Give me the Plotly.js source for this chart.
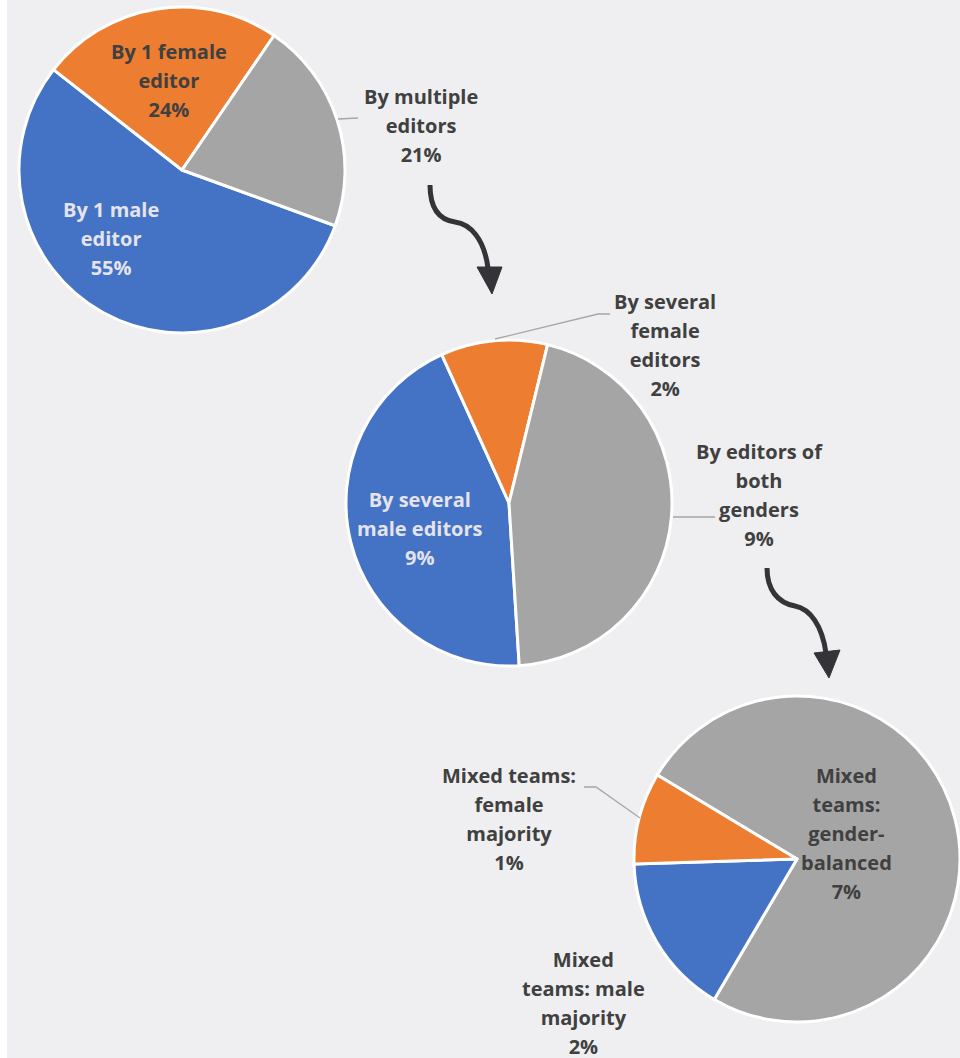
<!DOCTYPE html>
<html>
<head>
<meta charset="utf-8">
<script src="https://cdn.plot.ly/plotly-3.0.1.min.js"></script>
<style>
  html, body { margin: 0; padding: 0; background: #ffffff; }
  #chart { width: 960px; height: 1058px; }
</style>
</head>
<body>
<div id="chart"></div>
<script>
// ---------- Data ----------
// Pie 1: who edits (share of all items)
const pie1Labels = ['By 1 male<br>editor', 'By 1 female<br>editor', 'By multiple<br>editors'];
const pie1Values = [55, 24, 21];

// Pie 2: breakdown of "By multiple editors"
const pie2Labels = ['By several<br>male editors', 'By several<br>female<br>editors', 'By editors of<br>both<br>genders'];
const pie2Values = [9.2, 2.2, 9.4];

// Pie 3: breakdown of "By editors of both genders"
const pie3Labels = ['Mixed<br>teams:<br>gender-<br>balanced', 'Mixed<br>teams: male<br>majority', 'Mixed teams:<br>female<br>majority'];
const pie3Values = [7.0, 1.5, 0.85];

// ---------- Styles ----------
const BLUE = '#4472C4', ORANGE = '#ED7D31', GRAY = '#A5A5A5';
const BG = '#EFEFF1';
const DARK = '#404040', LIGHT = '#E4E4EA';
const W = 960, H = 1058;

const pies = [
  { labels: pie1Labels, values: pie1Values, colors: [BLUE, ORANGE, GRAY], rotation: 110,
    cx: 182, cy: 170, r: 163,
    text: [{x: 111, y: 238, c: LIGHT}, {x: 169, y: 80, c: DARK}, {x: 421, y: 125, c: DARK}] },
  { labels: pie2Labels, values: pie2Values, colors: [BLUE, ORANGE, GRAY], rotation: 176.4,
    cx: 509, cy: 503, r: 163,
    text: [{x: 420, y: 528, c: LIGHT}, {x: 665, y: 345, c: DARK}, {x: 759, y: 495, c: DARK}] },
  { labels: pie3Labels, values: pie3Values, colors: [GRAY, BLUE, ORANGE], rotation: -59,
    cx: 797, cy: 859, r: 163,
    text: [{x: 846, y: 833, c: DARK}, {x: 583, y: 1003, c: DARK}, {x: 509, y: 819, c: DARK}] }
];

const traces = [];
const annotations = [];
const FONT = 'Open Sans, Noto Sans, sans-serif';
const TXT = 20, LINEFS = 29 / 1.3;

pies.forEach((p, k) => {
  traces.push({
    type: 'pie',
    labels: p.labels.map(s => s.replace(/<br>/g, ' ')),
    values: p.values,
    sort: false,
    direction: 'clockwise',
    rotation: p.rotation,
    marker: { colors: p.colors, line: { color: '#ffffff', width: 3 } },
    textinfo: 'none',
    hoverinfo: 'label+percent',
    showlegend: false,
    domain: {
      x: [(p.cx - p.r) / W, (p.cx + p.r) / W],
      y: [(H - p.cy - p.r) / H, (H - p.cy + p.r) / H]
    }
  });
  p.labels.forEach((lab, i) => {
    const lines = lab.split('<br>').concat([Math.round(p.values[i]) + '%']);
    annotations.push({
      xref: 'x', yref: 'y', x: p.text[i].x, y: p.text[i].y,
      xanchor: 'center', yanchor: 'middle', showarrow: false, align: 'center',
      text: lines.map(l => '<span style="font-size:' + TXT + 'px">' + l + '</span>').join('<br>'),
      font: { family: FONT, size: LINEFS, color: p.text[i].c, weight: 700 },
      borderpad: 0
    });
  });
});

// empty trace so the pixel-like cartesian frame exists for shapes/annotations
traces.push({ type: 'scatter', x: [], y: [], mode: 'markers', showlegend: false, hoverinfo: 'skip' });

const ARROW = '#333338', LEADER = '#A6A6A6';
const shapes = [
  // background panel
  { type: 'rect', xref: 'x', yref: 'y', x0: 7, x1: 960, y0: 0, y1: 1058, fillcolor: BG, line: { width: 0 }, layer: 'below' },
  // leader lines
  { type: 'path', xref: 'x', yref: 'y', path: 'M338,119 L358,118', line: { color: LEADER, width: 1.3 } },
  { type: 'path', xref: 'x', yref: 'y', path: 'M495,339 L598,314 L610,314', line: { color: LEADER, width: 1.3 } },
  { type: 'path', xref: 'x', yref: 'y', path: 'M673,517 L715,517', line: { color: LEADER, width: 1.3 } },
  { type: 'path', xref: 'x', yref: 'y', path: 'M584,787 L596,787 L640,818', line: { color: LEADER, width: 1.3 } },
  // curved arrows
  { type: 'path', xref: 'x', yref: 'y', path: 'M430,185 C430,210 440,220 455,222 C470,224 484,238 488,268', line: { color: ARROW, width: 5 } },
  { type: 'path', xref: 'x', yref: 'y', path: 'M477,267 L502,267 L492,294 Z', fillcolor: ARROW, line: { color: ARROW, width: 1 } },
  { type: 'path', xref: 'x', yref: 'y', path: 'M767,568 C767,590 778,603 795,606 C810,609 822,625 826,653', line: { color: ARROW, width: 5 } },
  { type: 'path', xref: 'x', yref: 'y', path: 'M814,653 L840,650 L829,678 Z', fillcolor: ARROW, line: { color: ARROW, width: 1 } }
];

const layout = {
  width: W, height: H,
  margin: { l: 0, r: 0, t: 0, b: 0, pad: 0 },
  paper_bgcolor: '#ffffff',
  plot_bgcolor: 'rgba(0,0,0,0)',
  xaxis: { range: [0, W], visible: false, fixedrange: true, domain: [0, 1] },
  yaxis: { range: [H, 0], visible: false, fixedrange: true, domain: [0, 1] },
  shapes: shapes,
  annotations: annotations,
  showlegend: false
};

Plotly.newPlot('chart', traces, layout, { displayModeBar: false, staticPlot: true });
</script>
</body>
</html>
